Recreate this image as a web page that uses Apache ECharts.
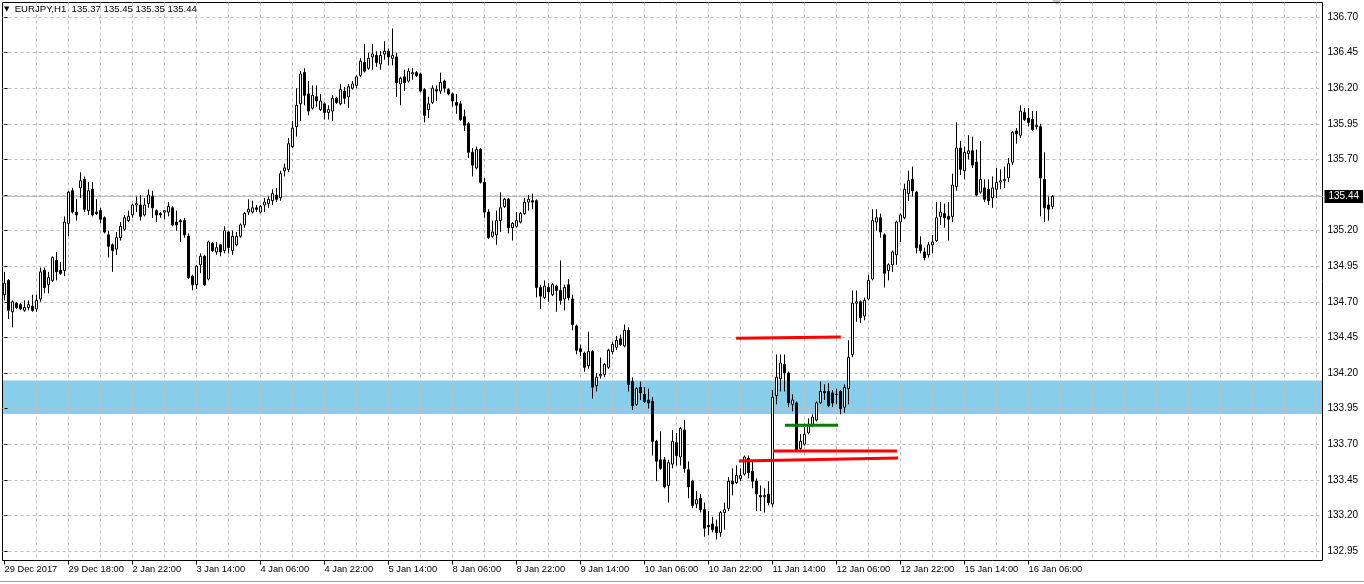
<!DOCTYPE html>
<html><head><meta charset="utf-8">
<script src="https://cdn.jsdelivr.net/npm/echarts@6/dist/echarts.min.js"></script>
<style>html,body{margin:0;padding:0;background:#fff}#c{width:1364px;height:584px}</style>
</head><body><div id="c"></div>
<script>
const symbolName = 'EURJPY,H1';
const xTickLabels = ['29 Dec 2017','29 Dec 18:00','2 Jan 22:00','3 Jan 14:00','4 Jan 06:00','4 Jan 22:00','5 Jan 14:00','8 Jan 06:00','8 Jan 22:00','9 Jan 14:00','10 Jan 06:00','10 Jan 22:00','11 Jan 14:00','12 Jan 06:00','12 Jan 22:00','15 Jan 14:00','16 Jan 06:00'];
const barsPerLabel = 16;
const barsPerGrid = 8;
const totalSlots = 330;
const priceTicks = [132.95,133.20,133.45,133.70,133.95,134.20,134.45,134.70,134.95,135.20,135.45,135.70,135.95,136.20,136.45,136.70];
const yMin = 132.883, yMax = 136.802;

const opens = [
134.75,134.85,134.63,134.69,134.68,134.64,134.66,134.67,134.65,134.72,
134.92,134.82,134.85,134.99,134.92,134.92,135.25,135.48,135.33,135.50,
135.56,135.34,135.49,135.33,135.34,135.29,135.17,135.10,135.07,135.15,
135.21,135.27,135.31,135.38,135.38,135.31,135.39,135.44,135.34,135.32,
135.33,135.33,135.36,135.26,135.27,135.27,135.16,134.88,134.82,134.96,
135.02,134.86,135.11,135.05,135.10,135.06,135.19,135.06,135.10,135.16,
135.24,135.33,135.33,135.36,135.33,135.38,135.39,135.41,135.45,135.43,
135.62,135.63,135.79,135.93,136.09,136.31,136.16,136.06,136.14,136.05,
136.09,136.03,136.04,136.13,136.09,136.18,136.14,136.20,136.22,136.29,
136.38,136.34,136.42,136.43,136.37,136.44,136.46,136.41,136.42,136.23,
136.28,136.25,136.30,136.31,136.30,136.19,136.05,136.10,136.19,136.18,
136.25,136.19,136.16,136.10,136.09,136.00,135.95,135.75,135.64,135.77,
135.54,135.33,135.16,135.17,135.27,135.37,135.42,135.22,135.23,135.26,
135.32,135.40,135.41,135.41,134.80,134.73,134.80,134.75,134.81,134.78,
134.72,134.82,134.72,134.53,134.37,134.34,134.25,134.35,134.11,134.18,
134.19,134.24,134.35,134.38,134.44,134.39,134.50,134.14,133.98,134.10,
134.05,134.01,134.00,133.72,133.59,133.59,133.41,133.56,133.71,133.61,
133.80,133.52,133.44,133.28,133.32,133.24,133.13,133.14,133.12,133.08,
133.22,133.25,133.44,133.43,133.46,133.49,133.60,133.51,133.44,133.34,
133.33,133.35,133.28,134.04,134.16,134.26,134.20,133.98,133.99,133.67,
133.70,133.78,133.83,133.87,133.99,134.07,134.07,134.06,134.05,134.07,
133.96,134.09,134.33,134.69,134.70,134.60,134.72,134.86,135.26,135.29,
135.17,134.92,134.96,135.03,135.26,135.29,135.46,135.56,135.47,135.10,
135.05,135.03,135.10,135.13,135.30,135.32,135.30,135.30,135.51,135.78,
135.62,135.74,135.76,135.68,135.47,135.50,135.49,135.43,135.49,135.54,
135.55,135.57,135.68,135.90,135.87,136.03,135.99,135.98,135.93,135.93,
135.56,135.38,135.37];

const highs = [
134.91,134.86,134.71,134.70,134.69,134.71,134.71,134.75,134.75,134.94,
134.94,134.91,135.02,135.05,134.98,135.30,135.48,135.50,135.42,135.61,
135.58,135.54,135.54,135.42,135.36,135.30,135.20,135.11,135.19,135.26,
135.31,135.34,135.39,135.44,135.45,135.43,135.49,135.48,135.35,135.33,
135.34,135.40,135.37,135.34,135.28,135.29,135.18,134.89,134.96,135.04,
135.03,135.13,135.12,135.12,135.10,135.23,135.20,135.20,135.19,135.25,
135.33,135.42,135.41,135.38,135.38,135.43,135.44,135.49,135.50,135.62,
135.67,135.85,135.97,136.20,136.32,136.34,136.25,136.22,136.22,136.16,
136.10,136.08,136.15,136.14,136.23,136.21,136.23,136.25,136.29,136.41,
136.51,136.45,136.51,136.46,136.46,136.53,136.48,136.62,136.45,136.28,
136.33,136.34,136.34,136.32,136.31,136.20,136.14,136.22,136.22,136.31,
136.26,136.20,136.17,136.16,136.11,136.05,135.96,135.78,135.79,135.78,
135.57,135.35,135.27,135.34,135.47,135.43,135.43,135.26,135.33,135.33,
135.43,135.45,135.46,135.42,134.82,134.85,134.83,134.83,134.82,134.99,
134.82,134.86,134.75,134.54,134.40,134.35,134.49,134.36,134.20,134.31,
134.27,134.37,134.42,134.46,134.47,134.54,134.52,134.17,134.10,134.14,
134.10,134.09,134.03,133.73,133.79,133.61,133.59,133.80,133.78,133.82,
133.87,133.58,133.45,133.37,133.35,133.29,133.23,133.19,133.17,133.23,
133.29,133.47,133.53,133.55,133.53,133.62,133.62,133.58,133.46,133.41,
133.39,133.44,134.08,134.33,134.33,134.33,134.21,134.05,134.00,133.77,
133.82,133.88,133.91,134.00,134.14,134.12,134.13,134.08,134.09,134.08,
134.12,134.43,134.78,134.78,134.71,134.73,134.89,135.35,135.35,135.32,
135.18,134.97,135.06,135.27,135.32,135.53,135.62,135.65,135.48,135.16,
135.08,135.12,135.17,135.40,135.40,135.39,135.40,135.60,135.96,135.83,
135.79,135.87,135.86,135.77,135.83,135.56,135.56,135.58,135.64,135.63,
135.65,135.71,135.90,135.92,136.08,136.06,136.06,136.04,136.04,135.95,
135.75,135.44,135.45];

const lows = [
134.71,134.58,134.52,134.65,134.64,134.63,134.64,134.63,134.63,134.70,
134.76,134.76,134.84,134.85,134.89,134.88,135.16,135.32,135.27,135.43,
135.33,135.31,135.30,135.31,135.25,135.18,135.01,134.91,135.03,135.13,
135.20,135.26,135.29,135.33,135.27,135.30,135.36,135.29,135.26,135.29,
135.28,135.30,135.23,135.20,135.12,135.15,134.86,134.78,134.79,134.90,
134.81,134.85,135.05,135.03,135.02,135.04,135.04,135.03,135.09,135.15,
135.22,135.31,135.32,135.33,135.32,135.33,135.36,135.38,135.40,135.41,
135.58,135.61,135.78,135.86,135.97,136.08,136.01,136.05,136.07,136.04,
135.98,135.98,135.97,136.09,136.08,136.09,136.06,136.19,136.20,136.28,
136.31,136.33,136.33,136.35,136.33,136.40,136.36,136.36,136.14,136.08,
136.18,136.24,136.26,136.28,136.17,135.96,135.99,136.09,136.11,136.16,
136.17,136.15,136.07,136.02,135.97,135.90,135.71,135.58,135.63,135.53,
135.29,135.14,135.15,135.10,135.19,135.36,135.18,135.13,135.22,135.25,
135.31,135.34,135.35,134.73,134.65,134.72,134.70,134.74,134.63,134.68,
134.64,134.71,134.50,134.33,134.32,134.21,134.23,134.02,134.07,134.16,
134.17,134.23,134.33,134.36,134.39,134.38,134.07,133.94,133.97,134.01,
133.99,133.95,133.62,133.44,133.52,133.39,133.29,133.53,133.55,133.55,
133.50,133.32,133.25,133.25,133.22,133.05,133.06,133.08,133.03,133.05,
133.10,133.23,133.34,133.42,133.44,133.48,133.46,133.39,133.23,133.23,
133.22,133.27,133.26,133.98,134.07,134.07,133.96,133.93,133.65,133.66,
133.69,133.77,133.82,133.86,133.98,134.01,133.96,133.96,133.98,133.91,
133.92,133.98,134.31,134.56,134.55,134.57,134.71,134.85,135.20,135.15,
134.80,134.85,134.91,134.96,135.12,135.28,135.41,135.44,135.04,135.04,
134.99,135.01,135.04,135.12,135.24,135.22,135.13,135.26,135.48,135.59,
135.56,135.70,135.64,135.44,135.46,135.40,135.38,135.36,135.43,135.49,
135.50,135.54,135.66,135.81,135.85,135.97,135.93,135.90,135.91,135.30,
135.26,135.27,135.35];

const closes = [
134.83,134.64,134.70,134.66,134.65,134.66,134.68,134.64,134.71,134.91,
134.80,134.87,135.01,134.91,134.90,135.26,135.47,135.33,135.31,135.55,
135.35,135.48,135.31,135.32,135.28,135.19,135.09,135.06,135.15,135.23,
135.29,135.30,135.38,135.39,135.30,135.38,135.45,135.36,135.31,135.31,
135.34,135.37,135.24,135.24,135.26,135.17,134.87,134.82,134.95,135.02,
134.82,135.12,135.06,135.08,135.05,135.20,135.08,135.16,135.16,135.24,
135.32,135.35,135.36,135.35,135.37,135.40,135.42,135.46,135.42,135.60,
135.64,135.81,135.92,136.08,136.30,136.15,136.04,136.15,136.11,136.11,
136.03,136.05,136.13,136.10,136.19,136.13,136.21,136.23,136.28,136.39,
136.32,136.41,136.44,136.38,136.43,136.46,136.42,136.43,136.24,136.27,
136.24,136.32,136.31,136.29,136.18,136.01,136.09,136.20,136.18,136.24,
136.20,136.16,136.11,136.08,135.98,135.94,135.75,135.66,135.77,135.54,
135.33,135.15,135.19,135.27,135.36,135.42,135.22,135.25,135.27,135.32,
135.40,135.42,135.40,134.80,134.74,134.81,134.77,134.82,134.78,134.71,
134.80,134.73,134.54,134.36,134.35,134.24,134.35,134.10,134.17,134.19,
134.26,134.36,134.40,134.43,134.40,134.50,134.12,133.97,134.09,134.06,
134.00,133.99,133.72,133.58,133.53,133.40,133.57,133.72,133.62,133.81,
133.53,133.40,133.27,133.31,133.24,133.11,133.12,133.10,133.08,133.22,
133.24,133.44,133.42,133.48,133.48,133.61,133.50,133.44,133.35,133.33,
133.34,133.29,134.03,134.17,134.27,134.20,133.99,134.01,133.66,133.72,
133.77,133.84,133.89,133.99,134.07,134.06,133.97,133.99,134.05,133.95,
134.10,134.31,134.69,134.70,134.59,134.71,134.85,135.27,135.29,135.19,
134.90,134.96,135.05,135.26,135.31,135.49,135.55,135.48,135.08,135.06,
135.01,135.10,135.12,135.29,135.33,135.29,135.28,135.52,135.78,135.63,
135.75,135.76,135.66,135.45,135.56,135.42,135.41,135.50,135.54,135.55,
135.56,135.67,135.89,135.88,136.04,135.98,135.96,135.91,135.94,135.57,
135.36,135.35,135.44];

// horizontal support zone (price range)
const zoneTop = 134.147, zoneBottom = 133.912;
// drawn trend lines: [[barIndex, price], [barIndex, price]]
const redLines = [
  [[182.9, 134.444], [209.1, 134.453]],
  [[192.1, 133.652], [223.1, 133.652]],
  [[183.6, 133.582], [223.4, 133.603]]
];
const greenLines = [
  [[195.1, 133.833], [208.4, 133.833]]
];

const FONT = '"Liberation Sans", Arial, sans-serif';
const n = opens.length;
const last = n - 1;
const slots = Array.from({length: totalSlots}, (_, i) => String(i));
const candleData = opens.map((o, i) => [o, closes[i], lows[i], highs[i]]);
const vGrid = [];
for (let k = barsPerGrid; k < totalSlots; k += barsPerGrid) vGrid.push(k);
const labelTicks = priceTicks.filter(v => Math.abs(v - closes[last]) > 0.05);
const isLabelIdx = (i) => i % barsPerLabel === 0 && (i / barsPerLabel) < xTickLabels.length;

const headerText = symbolName + '  ' + [opens[last], highs[last], lows[last], closes[last]].map(v => v.toFixed(2)).join(' ');

const trendSeries = [];
redLines.forEach(seg => trendSeries.push({type: 'line', xAxisIndex: 1, yAxisIndex: 0, data: seg, symbol: 'none', silent: true, z: 3, lineStyle: {color: '#ff0000', width: 3}}));
greenLines.forEach(seg => trendSeries.push({type: 'line', xAxisIndex: 1, yAxisIndex: 0, data: seg, symbol: 'none', silent: true, z: 3, lineStyle: {color: '#008000', width: 3}}));

const chart = echarts.init(document.getElementById('c'), null, {renderer: 'canvas'});
chart.setOption({
  animation: false,
  backgroundColor: '#ffffff',
  title: {text: '{t|\u25BC}  ' + headerText, left: 4, top: 4, padding: 0,
    textStyle: {fontSize: 9.6, fontWeight: 'normal', color: '#000', fontFamily: FONT,
      rich: {t: {fontSize: 7, color: '#000', fontFamily: '"DejaVu Sans", sans-serif'}}}},
  grid: {left: 2.5, right: 41.5, top: 2.5, bottom: 23.5, show: true, borderColor: '#000', borderWidth: 1, backgroundColor: 'transparent', outerBoundsMode: 'none', containLabel: false, z: 1},
  xAxis: [
    {type: 'category', data: slots, boundaryGap: true, z: 1,
     axisLine: {show: false},
     axisTick: {show: true, length: 4, alignWithLabel: true, interval: (i) => isLabelIdx(i), lineStyle: {color: '#000'}},
     axisLabel: {interval: (i) => isLabelIdx(i), formatter: (v, i) => xTickLabels[i / barsPerLabel] || '', align: 'left', margin: 4, fontSize: 9.3, color: '#000', fontFamily: FONT},
     splitLine: {show: false}},
    {type: 'value', min: -0.5, max: totalSlots - 0.5, position: 'bottom', z: 1,
     axisLine: {show: false}, axisLabel: {show: false},
     axisTick: {show: false, customValues: vGrid},
     splitLine: {show: true, lineStyle: {color: '#c0c0c0', type: [3, 3], width: 1}}}
  ],
  yAxis: [{
    type: 'value', position: 'right', min: yMin, max: yMax, z: 1,
    axisLine: {show: false},
    axisTick: {show: true, length: 3, customValues: priceTicks, lineStyle: {color: '#000'}},
    axisLabel: {customValues: labelTicks, formatter: v => Number(v).toFixed(2), margin: 5, fontSize: 10, color: '#000', fontFamily: FONT},
    splitLine: {show: true, lineStyle: {color: '#c0c0c0', type: [3, 3], width: 1}}
  }],
  series: [
    {type: 'candlestick', xAxisIndex: 0, yAxisIndex: 0, data: candleData, barWidth: 2, z: 2, silent: true,
     itemStyle: {color: '#ffffff', color0: '#000000', borderColor: '#000000', borderColor0: '#000000', borderWidth: 1},
     markArea: {silent: true, z: 0, itemStyle: {color: '#87ceeb'}, data: [[{yAxis: zoneTop}, {yAxis: zoneBottom}]]},
     markLine: {silent: true, z: 1, symbol: ['none', 'none'], animation: false,
       lineStyle: {color: '#c0c0c0', type: 'solid', width: 1},
       label: {show: true, position: 'end', distance: 2, formatter: () => closes[last].toFixed(2), backgroundColor: '#000', color: '#fff', padding: [2, 4, 1, 4], fontSize: 10, fontFamily: FONT},
       data: [{yAxis: closes[last]}]}
    }
  ].concat(trendSeries),
  graphic: [
    {type: 'line', shape: {x1: 0, y1: 581.5, x2: 1364, y2: 581.5}, style: {stroke: '#a0a0a0', lineWidth: 1}, silent: true},
    {type: 'polygon', shape: {points: [[1052, 0], [1062, 0], [1057, 5]]}, style: {fill: '#c8c8c8'}, silent: true}
  ]
});
</script>
</body></html>
